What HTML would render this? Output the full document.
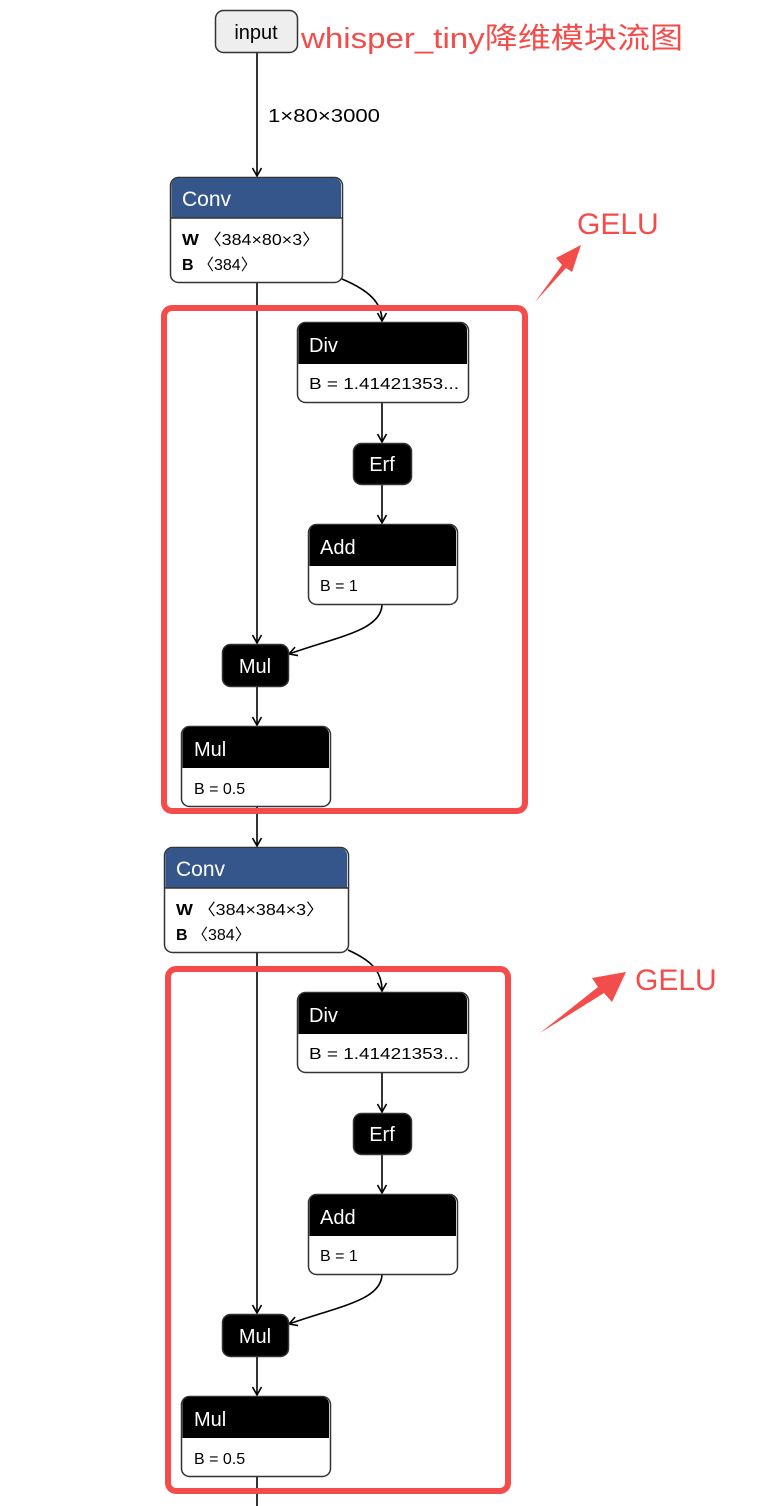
<!DOCTYPE html>
<html><head><meta charset="utf-8"><style>
html,body{margin:0;padding:0;background:#fff;}
svg{display:block;}
text{font-family:"Liberation Sans","Noto Sans CJK SC",sans-serif;}
</style></head><body>
<svg width="764" height="1506" viewBox="0 0 764 1506" xmlns="http://www.w3.org/2000/svg">
<defs>
<marker id="ah" markerWidth="12" markerHeight="12" refX="9" refY="6" orient="auto" markerUnits="userSpaceOnUse">
<path d="M1,1.5 L9,6 L1,10.5" fill="none" stroke="#000" stroke-width="1.6"/>
</marker>
</defs>
<g stroke="#000" stroke-width="1.6" fill="none">
<line x1="257" y1="52" x2="257" y2="176" marker-end="url(#ah)"/>
<line x1="257" y1="282" x2="257" y2="643" marker-end="url(#ah)"/>
<path d="M342,279 C368,290 382,302 382,321" marker-end="url(#ah)"/>
<line x1="382" y1="402" x2="382" y2="442" marker-end="url(#ah)"/>
<line x1="382" y1="484" x2="382" y2="523" marker-end="url(#ah)"/>
<path d="M382,604 C382,630 340,636 289,654" marker-end="url(#ah)"/>
<line x1="257" y1="686" x2="257" y2="725" marker-end="url(#ah)"/>
<line x1="257" y1="806" x2="257" y2="846" marker-end="url(#ah)"/>
<line x1="257" y1="952" x2="257" y2="1313" marker-end="url(#ah)"/>
<path d="M348,950 C370,960 382,970 382,991" marker-end="url(#ah)"/>
<line x1="382" y1="1072" x2="382" y2="1112" marker-end="url(#ah)"/>
<line x1="382" y1="1154" x2="382" y2="1193" marker-end="url(#ah)"/>
<path d="M382,1274 C382,1300 340,1306 289,1324" marker-end="url(#ah)"/>
<line x1="257" y1="1356" x2="257" y2="1395" marker-end="url(#ah)"/>
<line x1="257" y1="1476" x2="257" y2="1506"/>
</g>
<rect x="215.5" y="10.5" width="82" height="42" rx="8" fill="#eee" stroke="#333" stroke-width="1.5"/>
<text x="256" y="39" font-size="20" text-anchor="middle" fill="#000">input</text>
<text x="301" y="48" font-size="29" fill="#f44c4a" textLength="382" lengthAdjust="spacingAndGlyphs">whisper_tiny降维模块流图</text>
<text x="268" y="122" font-size="18" fill="#000" textLength="112" lengthAdjust="spacingAndGlyphs">1×80×3000</text>

<g>
<rect x="170.5" y="177.5" width="172" height="105" rx="8" fill="#fff" stroke="#333" stroke-width="1.5"/>
<path d="M171.5,218 V185 a7,7 0 0 1 7,-7 H334 a7,7 0 0 1 7,7 V218 Z" fill="#34568b"/>
<line x1="170.5" y1="218" x2="342.5" y2="218" stroke="#333" stroke-width="1.5"/>
<text x="182" y="206" font-size="21" fill="#fff">Conv</text>
<text x="182" y="245" font-size="16" fill="#000" textLength="138" lengthAdjust="spacingAndGlyphs"><tspan font-weight="bold">W</tspan> 〈384×80×3〉</text>
<text x="182" y="270" font-size="16" fill="#000"><tspan font-weight="bold">B</tspan> 〈384〉</text>
</g>
<g>
<rect x="164.5" y="847.5" width="184" height="105" rx="8" fill="#fff" stroke="#333" stroke-width="1.5"/>
<path d="M165.5,888 V855 a7,7 0 0 1 7,-7 H340 a7,7 0 0 1 7,7 V888 Z" fill="#34568b"/>
<line x1="164.5" y1="888" x2="348.5" y2="888" stroke="#333" stroke-width="1.5"/>
<text x="176" y="876" font-size="21" fill="#fff">Conv</text>
<text x="176" y="915" font-size="16" fill="#000" textLength="148" lengthAdjust="spacingAndGlyphs"><tspan font-weight="bold">W</tspan> 〈384×384×3〉</text>
<text x="176" y="940" font-size="16" fill="#000"><tspan font-weight="bold">B</tspan> 〈384〉</text>
</g>

<g id="b1">
<rect x="297.5" y="322.5" width="171" height="80" rx="8" fill="#fff" stroke="#333" stroke-width="1.5"/>
<path d="M298.5,364 V330 a7,7 0 0 1 7,-7 H460 a7,7 0 0 1 7,7 V364 Z" fill="#000"/>
<text x="309" y="352" font-size="20" fill="#fff">Div</text>
<text x="309" y="389" font-size="16" fill="#000" textLength="150" lengthAdjust="spacingAndGlyphs">B = 1.41421353...</text>

<rect x="353.5" y="443.5" width="58" height="41" rx="8" fill="#000" stroke="#333" stroke-width="1.5"/>
<text x="382" y="471" font-size="20" fill="#fff" text-anchor="middle">Erf</text>

<rect x="308.5" y="524.5" width="149" height="80" rx="8" fill="#fff" stroke="#333" stroke-width="1.5"/>
<path d="M309.5,566 V532 a7,7 0 0 1 7,-7 H449 a7,7 0 0 1 7,7 V566 Z" fill="#000"/>
<text x="320" y="554" font-size="20" fill="#fff">Add</text>
<text x="320" y="591" font-size="16" fill="#000">B = 1</text>

<rect x="222.5" y="644.5" width="66" height="42" rx="8" fill="#000" stroke="#333" stroke-width="1.5"/>
<text x="255" y="673" font-size="20" fill="#fff" text-anchor="middle">Mul</text>

<rect x="181.5" y="726.5" width="149" height="80" rx="8" fill="#fff" stroke="#333" stroke-width="1.5"/>
<path d="M182.5,768 V734 a7,7 0 0 1 7,-7 H322 a7,7 0 0 1 7,7 V768 Z" fill="#000"/>
<text x="194" y="756" font-size="20" fill="#fff">Mul</text>
<text x="194" y="794" font-size="16" fill="#000">B = 0.5</text>
</g>
<use href="#b1" transform="translate(0,670)"/>

<rect x="164" y="308" width="361" height="503" rx="8" fill="none" stroke="#f44c4a" stroke-width="6"/>
<rect x="168" y="969" width="340" height="522" rx="8" fill="none" stroke="#f44c4a" stroke-width="6"/>

<text x="577" y="234" font-size="30" fill="#f44c4a">GELU</text>
<polygon points="535,302 562,265 556,258 581,245 572,272 566,268" fill="#f44c4a"/>
<text x="635" y="990" font-size="30" fill="#f44c4a">GELU</text>
<polygon points="540,1033 598,987 592,978 626,972 612,1002 604,993" fill="#f44c4a"/>
</svg>
</body></html>
